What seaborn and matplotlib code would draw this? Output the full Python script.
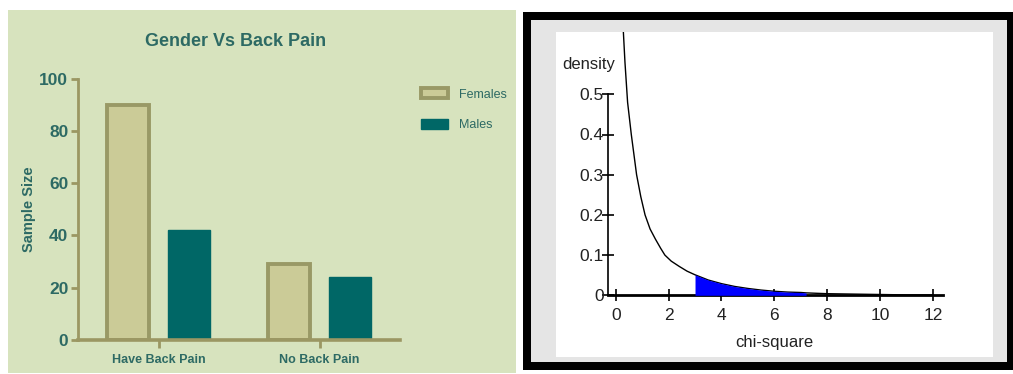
import numpy as np
import pandas as pd
import matplotlib
matplotlib.use("Agg")
import matplotlib.pyplot as plt
from matplotlib.patches import Rectangle
import seaborn as sns

# ---------------- data ----------------
categories = ["Have Back Pain", "No Back Pain"]
females = [90, 29]
males = [42, 24]
gender_labels = ["Females", "Males"]
y_ticks_left = [0, 20, 40, 60, 80, 100]

# chi-square density curve
chi_x = [0.29, 0.35, 0.40, 0.45, 0.52, 0.59, 0.70, 0.79, 0.95, 1.11, 1.30, 1.50, 1.70, 1.86,
         2.10, 2.40, 2.70, 3.00, 3.50, 4.00, 4.50, 5.00, 5.50, 6.00, 6.50, 7.00,
         7.20, 8.00, 9.00, 10.00, 11.00, 12.00]
chi_density = [0.655, 0.58, 0.53, 0.48, 0.44, 0.40, 0.345, 0.30, 0.245, 0.20, 0.165, 0.14,
               0.117, 0.10, 0.085, 0.072, 0.06, 0.051, 0.038, 0.029, 0.022, 0.017,
               0.013, 0.010, 0.008, 0.007, 0.006, 0.004, 0.003, 0.002, 0.001, 0.001]
shade_from, shade_to = 3.0, 7.2
x_ticks_right = [0, 2, 4, 6, 8, 10, 12]
y_ticks_right = [0, 0.1, 0.2, 0.3, 0.4, 0.5]
y_ticklabels_right = ["0", "0.1", "0.2", "0.3", "0.4", "0.5"]

# ---------------- figure ----------------
W, H = 1013, 374
sns.set_theme(style="white")
plt.rcParams["font.family"] = ["Liberation Sans", "DejaVu Sans"]
fig = plt.figure(figsize=(W / 100, H / 100), dpi=100)
fig.patch.set_facecolor("white")

def fx(px):
    return px / W

def fy(py):
    return 1 - py / H

def add_rect(x0, y0, x1, y1, color):
    fig.patches.append(Rectangle((fx(x0), fy(y1)), fx(x1) - fx(x0), fy(y0) - fy(y1),
                                 transform=fig.transFigure, facecolor=color,
                                 edgecolor="none", zorder=-10))

# left panel background
add_rect(8, 10, 516, 373, "#d7e3be")
# right panel frame
add_rect(523, 12, 1020, 370, "black")
add_rect(531, 20, 1007, 362, "#e5e5e5")
add_rect(556, 32, 993, 357, "white")

# ---------------- left: bar chart ----------------
teal_text = "#2d6a64"
olive = "#9b9763"
fem_fill, fem_edge, male_col = "#cbcb97", "#999966", "#006766"
ax1 = fig.add_axes([fx(78), fy(340), fx(400) - fx(78), fy(78.7) - fy(340)])
ax1.set_facecolor("none")
df = pd.DataFrame({
    "category": categories * 2,
    "gender": [gender_labels[0]] * 2 + [gender_labels[1]] * 2,
    "value": females + males,
})
sns.barplot(data=df, x="category", y="value", hue="gender", ax=ax1,
            palette={"Females": fem_fill, "Males": male_col},
            width=0.75, gap=0.3, errorbar=None, legend=True, saturation=1)
for p in ax1.containers[0]:
    p.set_edgecolor(fem_edge)
    p.set_linewidth(2.8)
for p in ax1.containers[1]:
    p.set_edgecolor(male_col)
    p.set_linewidth(1)
ax1.set_xlim(-0.5, 1.5)
ax1.set_ylim(0, 100)
ax1.set_yticks(y_ticks_left)
for s in ["top", "right"]:
    ax1.spines[s].set_visible(False)
ax1.spines["left"].set_color(olive)
ax1.spines["left"].set_linewidth(2)
ax1.spines["bottom"].set_color(olive)
ax1.spines["bottom"].set_linewidth(2.6)
ax1.tick_params(axis="y", direction="out", length=5, width=2, color=olive,
                labelcolor=teal_text, labelsize=12.5, pad=2, left=True)
ax1.tick_params(axis="x", direction="out", length=6, width=2, color=olive,
                labelcolor=teal_text, labelsize=9, pad=4, bottom=True)
for t in ax1.get_yticklabels() + ax1.get_xticklabels():
    t.set_fontweight("bold")
ax1.set_xlabel("")
ax1.set_ylabel("Sample Size", fontsize=10.5, fontweight="bold", color=teal_text)
ax1.yaxis.set_label_coords((36 - 78) / (400 - 78), 0.5)
ax1.legend_.remove()
handles, labels = ax1.get_legend_handles_labels()
leg = fig.legend(handles, labels, loc="upper left",
                 bbox_to_anchor=(fx(410), fy(77)), frameon=False,
                 fontsize=9, handlelength=2.1, handleheight=0.85,
                 labelspacing=1.45, handletextpad=0.9, labelcolor=teal_text)
hs = leg.legend_handles
hs[0].set_edgecolor(fem_edge)
hs[0].set_linewidth(2.8)
hs[1].set_edgecolor(male_col)
fig.text(fx(236), fy(41), "Gender Vs Back Pain", ha="center", va="center",
         fontsize=13, fontweight="bold", color=teal_text)

# ---------------- right: chi-square density ----------------
x0_px, x12_px = 615.7, 933.0
unit = (x12_px - x0_px) / 12
xl, xr = 608, 943
xmin = (xl - x0_px) / unit
xmax = (xr - x0_px) / unit
ax2 = fig.add_axes([fx(xl), fy(295.3), fx(xr) - fx(xl), fy(32) - fy(295.3)])
ax2.set_facecolor("none")
cdf = pd.DataFrame({"chi": chi_x, "density": chi_density})
sns.lineplot(data=cdf, x="chi", y="density", ax=ax2, color="black", lw=1, sort=False)
mask = (cdf["chi"] >= shade_from) & (cdf["chi"] <= shade_to)
ax2.fill_between(cdf["chi"][mask], 0, cdf["density"][mask], color="#0000ff",
                 zorder=3, lw=0)
ax2.set_xlim(xmin, xmax)
ax2.set_ylim(0, (295.3 - 32) / 402)
ax2.set_xticks(x_ticks_right)
ax2.set_yticks(y_ticks_right)
ax2.set_yticklabels(y_ticklabels_right)
for s in ["top", "right"]:
    ax2.spines[s].set_visible(False)
ax2.spines["left"].set_bounds(0, 0.5)
ax2.spines["left"].set_color("black")
ax2.spines["left"].set_linewidth(1.2)
ax2.spines["bottom"].set_color("black")
ax2.spines["bottom"].set_linewidth(2)
ax2.tick_params(axis="both", direction="inout", length=8, width=1.2, color="black",
                labelcolor="#222222", left=True, bottom=True)
ax2.tick_params(axis="x", labelsize=12.5, pad=5)
ax2.tick_params(axis="y", labelsize=12.5, pad=-1)
ax2.set_xlabel("chi-square", fontsize=12, color="#222222")
ax2.xaxis.set_label_coords((774 - xl) / (xr - xl), -0.15)
ax2.set_ylabel("")
fig.text(fx(562), fy(64), "density", ha="left", va="center", fontsize=12, color="#222222")

fig.savefig("out.png", dpi=100, facecolor="white")
